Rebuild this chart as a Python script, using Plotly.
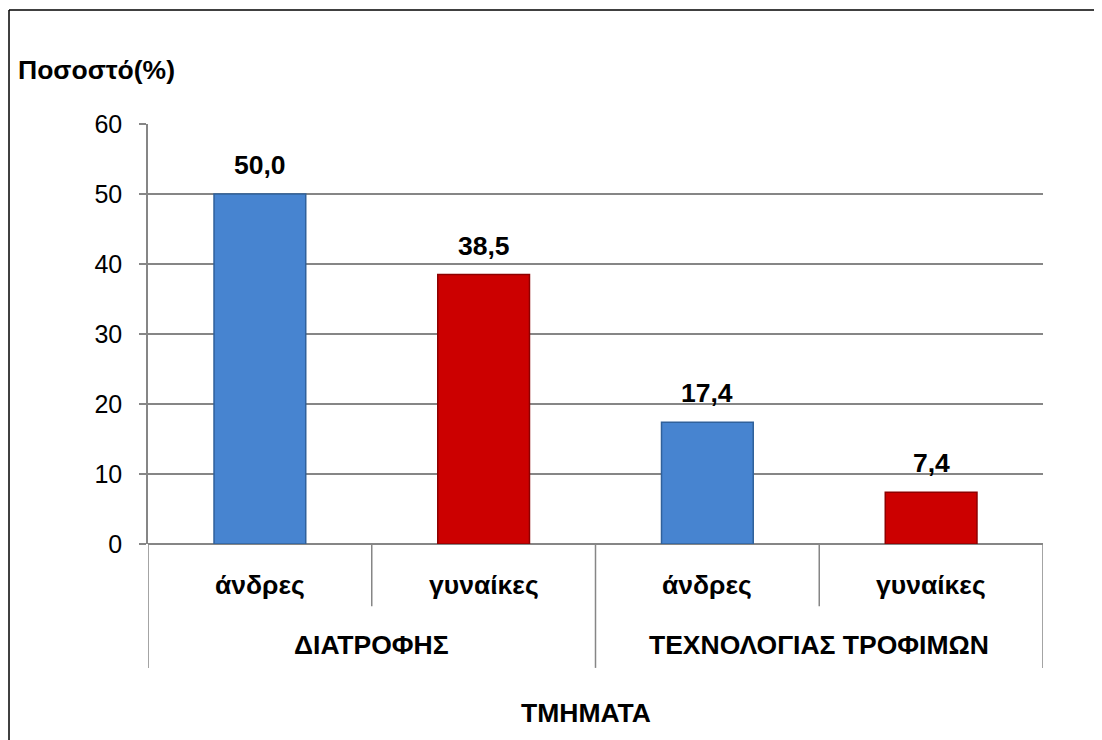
import plotly.graph_objects as go

# data
groups = ["ΔΙΑΤΡΟΦΗΣ", "ΤΕΧΝΟΛΟΓΙΑΣ ΤΡΟΦΙΜΩΝ"]
sexes = ["άνδρες", "γυναίκες", "άνδρες", "γυναίκες"]
values = [50.0, 38.5, 17.4, 7.4]
bar_colors = ["#4784d0", "#cc0000", "#4784d0", "#cc0000"]
edge_colors = ["#30619b", "#8e0000", "#30619b", "#8e0000"]
y_ticks = [0, 10, 20, 30, 40, 50, 60]

FONT = "Liberation Sans, Arial, sans-serif"
GRID = "#868686"
FS = 26.5   # bold labels
TFS = 25    # tick labels

xs = list(range(len(values)))
labels = [("%.1f" % v).replace(".", ",") for v in values]

fig = go.Figure()
fig.add_trace(go.Bar(
    x=xs, y=values, width=0.41,
    marker=dict(color=bar_colors, line=dict(color=edge_colors, width=1.5)),
    hoverinfo="skip",
))

# value labels above bars
for x, v, t in zip(xs, values, labels):
    fig.add_annotation(x=x, y=v, text="<b>%s</b>" % t, showarrow=False,
                       yanchor="middle", yshift=29,
                       font=dict(family=FONT, size=FS, color="black"))

# sub category labels
for x, s in zip(xs, sexes):
    fig.add_annotation(x=x, y=-0.098, yref="paper", yanchor="middle",
                       text="<b>%s</b>" % s, showarrow=False,
                       font=dict(family=FONT, size=FS, color="black"))

# group labels
for i, g in enumerate(groups):
    fig.add_annotation(x=2 * i + 0.5, y=-0.24, yref="paper", yanchor="middle",
                       text="<b>%s</b>" % g, showarrow=False,
                       font=dict(family=FONT, size=FS, color="black"))

# dividers of the category axis
for i in range(len(xs) + 1):
    xpos = i - 0.5
    bottom = -0.295 if i % 2 == 0 else -0.148
    fig.add_shape(type="line", xref="x", yref="paper", x0=xpos, x1=xpos,
                  y0=0, y1=bottom, line=dict(color=GRID, width=1.5))

# axis titles
fig.add_annotation(x=-0.1475, y=1.1286, xref="paper", yref="paper",
                   xanchor="left", yanchor="middle",
                   text="<b>Ποσοστό(%)</b>", showarrow=False,
                   font=dict(family=FONT, size=FS, color="black"))
fig.add_annotation(x=0.489, y=-0.402, xref="paper", yref="paper", yanchor="middle",
                   text="<b>ΤΜΗΜΑΤΑ</b>", showarrow=False,
                   font=dict(family=FONT, size=FS, color="black"))

# outer frame (left and top edges)
fig.add_shape(type="line", xref="paper", yref="paper", x0=-0.1553, x1=-0.1553,
              y0=1.2714, y1=-0.6, line=dict(color="black", width=1.5))
fig.add_shape(type="line", xref="paper", yref="paper", x0=-0.1553, x1=1.1,
              y0=1.2714, y1=1.2714, line=dict(color="black", width=1.5))

fig.update_layout(
    width=1094, height=732,
    margin=dict(l=140, r=59, t=116, b=196),
    paper_bgcolor="white", plot_bgcolor="white",
    showlegend=False,
    font=dict(family=FONT, size=TFS, color="black"),
    xaxis=dict(range=[-0.5, 3.5], showticklabels=False, showgrid=False,
               zeroline=False, showline=False, ticks=""),
    yaxis=dict(range=[0, 60], tickvals=y_ticks, showgrid=True, gridcolor=GRID,
               gridwidth=1.5, zeroline=True, zerolinecolor=GRID, zerolinewidth=1.5,
               showline=True, linecolor=GRID, linewidth=1.5,
               ticks="outside", ticklen=7, tickcolor=GRID, tickwidth=1.5,
               ticklabelstandoff=12,
               tickfont=dict(family=FONT, size=TFS, color="black")),
)

fig.write_html("out.html")
